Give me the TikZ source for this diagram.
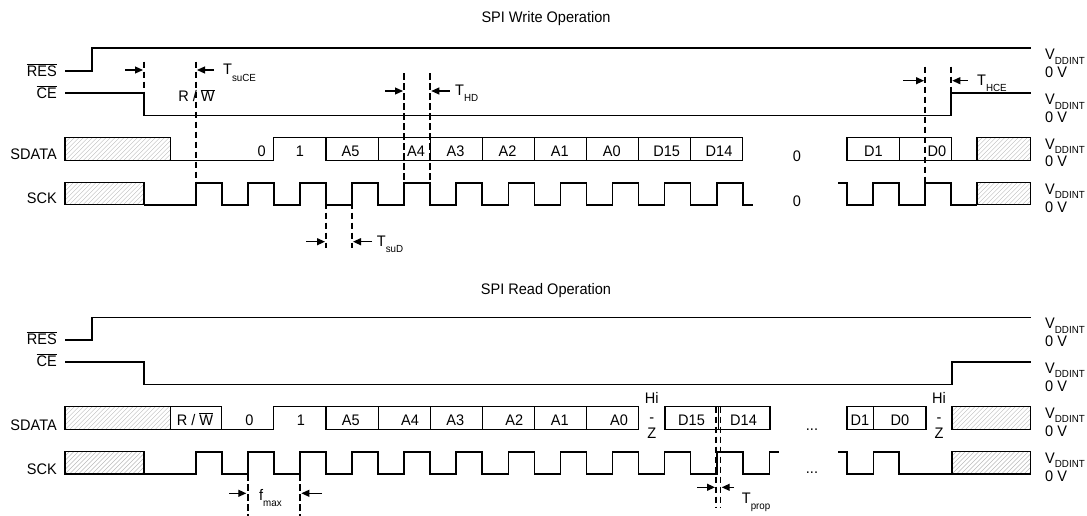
\documentclass[tikz,border=0pt]{standalone}
\usepackage{fontspec}
\setmainfont{Liberation Sans}[FakeStretch=0.95]
\usetikzlibrary{arrows.meta}
\newcommand\tsub[1]{\raisebox{-6.3pt}{\fontsize{10.3}{12}\selectfont #1}}
\newcommand\vsub[1]{\raisebox{-4.7pt}{\fontsize{10.3}{12}\selectfont #1}}
\newcommand\ovl[1]{$\overline{\mbox{#1}}$}
\newcommand\hatchrect[4]{%
  \begin{scope}
    \clip (#1,#2) rectangle (#3,#4);
    \foreach \i in {-6,...,25} \draw[hatchline] ({#1+4.5*\i},#4) -- ++(30,-30);
  \end{scope}
  \draw[hbox] (#1,#2) rectangle (#3,#4);
}
\begin{document}
\begin{tikzpicture}[x=1pt,y=-1pt,
  every node/.style={font=\fontsize{15.3}{18}\selectfont, inner sep=0pt, text=black},
  sig/.style={line width=1.6pt},
  dbox/.style={line width=1.1pt},
  hbox/.style={line width=1.5pt},
  hatchline/.style={line width=0.4pt, gray!55},
  dsh/.style={line width=1.7pt, dash pattern=on 6.5pt off 3.5pt},
  arr/.style={line width=1.2pt, -{Triangle[length=8pt,width=7pt]}}]
\useasboundingbox (0,0) rectangle (1087,516);

% ---------------- titles
\node[anchor=base] (tw) at (546,23) {SPI Write Operation};
\node[anchor=base] (tr) at (546,294) {SPI Read Operation};

% ================= WRITE
\node[anchor=base east] (wres) at (57,76.7) {\ovl{RES}};
\node[anchor=base east] (wce) at (57,98.3) {\ovl{CE}};
\node[anchor=base east] (wsd) at (57,160) {SDATA};
\node[anchor=base east] (wsck) at (57,204) {SCK};

\draw[sig] (65,71) -- (92,71) -- (92,48.3) -- (1031,48.3);
\draw[sig] (65,93.3) -- (144,93.3) -- (144,115.7) -- (951.15,115.7) -- (951.15,93.3) -- (1031,93.3);

% SDATA
\hatchrect{65}{137.7}{170.3}{160.7}
\draw[dbox] (170.3,160.7) -- (273.85,160.7) -- (273.85,137.7) -- (742.75,137.7) -- (742.75,160.7) -- (325.95,160.7) -- (325.95,137.7);
\foreach \x in {378.05,430.15,482.25,534.35,586.45,638.55,690.65} \draw[dbox] (\x,137.7) -- (\x,160.7);
\draw[dbox] (846.95,137.7) rectangle (951.15,160.7);
\draw[dbox] (899.05,137.7) -- (899.05,160.7);
\draw[dbox] (951.15,160.7) -- (977.2,160.7);
\hatchrect{977.2}{137.7}{1030.7}{160.7}
\foreach \x/\t [count=\i] in {261.7/0, 299.9/1, 350.5/A5, 416/A4, 455.5/A3, 507.5/A2, 559.7/A1, 611.7/A0, 666.7/D15, 719/D14, 873.3/D1, 937/D0}
  \node[anchor=base] (wd\i) at (\x,156.5) {\t};
\node[anchor=base] (wz1) at (797,161.7) {0};

% SCK
\hatchrect{65}{182.7}{144}{204.7}
\draw[sig] (144,204.7) \foreach \k in {0,...,10} { -- ({195.7+52.1*\k},204.7) -- ++(0,-22) -- ++(26.05,0) -- ++(0,22) } -- (753,204.7);
\draw[sig] (838.3,182.7) -- (846.95,182.7) -- (846.95,204.7) -- (873,204.7) -- (873,182.7) -- (899.05,182.7) -- (899.05,204.7) -- (925.1,204.7) -- (925.1,182.7) -- (951.15,182.7) -- (951.15,204.7) -- (977.2,204.7);
\hatchrect{977.2}{182.7}{1030.7}{204.7}
\node[anchor=base] (wz2) at (797,206.7) {0};

% right labels
\foreach \y [count=\i] in {48.3,93.3,137.7,182.7} {
  \node[anchor=base west] (wv\i) at (1045,\y+11.5) {V\vsub{DDINT}};
  \node[anchor=base west] (wo\i) at (1045,\y+29.3) {0 V};
}

% timing marks
\node[anchor=base] (wrw) at (196.5,101.7) {R / \ovl{W}};
\draw[dsh] (144,61.7) -- (144,115.7);
\draw[dsh] (195.7,61.7) -- (195.7,182.7);
\draw[arr] (125,70) -- (143,70);
\draw[arr] (214,70) -- (197,70);
\node[anchor=base west] (tsuce) at (223,75) {T\tsub{suCE}};

\draw[dsh] (325.95,182.7) -- (325.95,248);
\draw[dsh] (352,182.7) -- (352,248);
\draw[arr] (306,241.7) -- (325,241.7);
\draw[arr] (372,241.7) -- (353,241.7);
\node[anchor=base west] (tsud) at (376.7,246.7) {T\tsub{suD}};

\draw[dsh] (404.1,73.3) -- (404.1,186.7);
\draw[dsh] (430.15,73.3) -- (430.15,186.7);
\draw[arr] (385,91) -- (403,91);
\draw[arr] (449.5,91) -- (431.3,91);
\node[anchor=base west] (thd) at (455,95.5) {T\tsub{HD}};

\draw[dsh] (925.1,66.7) -- (925.1,193);
\draw[dsh] (951.15,66.7) -- (951.15,115.7);
\draw[arr] (903,80.7) -- (924,80.7);
\draw[arr] (967.5,80.7) -- (952.3,80.7);
\node[anchor=base west] (thce) at (977,85.5) {T\tsub{HCE}};

% ================= READ
\node[anchor=base east] (rres) at (57,344.5) {\ovl{RES}};
\node[anchor=base east] (rce) at (57,366.7) {\ovl{CE}};
\node[anchor=base east] (rsd) at (57,430) {SDATA};
\node[anchor=base east] (rsck) at (57,474) {SCK};

\draw[sig] (65,340) -- (91.7,340) -- (91.7,317.3) -- (1031,317.3);
\draw[sig] (65,361.7) -- (144,361.7) -- (144,384.3) -- (952,384.3) -- (952,361.7) -- (1031,361.7);

% SDATA
\hatchrect{65}{406.7}{170.3}{429.7}
\draw[dbox] (170.3,406.7) -- (221.75,406.7) -- (221.75,429.7);
\draw[dbox] (170.3,429.7) -- (273.85,429.7) -- (273.85,406.7) -- (638.55,406.7) -- (638.55,429.7) -- (325.95,429.7) -- (325.95,406.7);
\foreach \x in {378.05,430.15,482.25,534.35,586.45} \draw[dbox] (\x,406.7) -- (\x,429.7);
\draw[dbox] (665,406.7) rectangle (770,429.7);
\draw[dbox] (718.3,406.7) -- (718.3,429.7);
\draw[dbox] (847,406.7) rectangle (926,429.7);
\draw[dbox] (873.3,406.7) -- (873.3,429.7);
\hatchrect{952}{406.7}{1030.7}{429.7}
\node[anchor=base] (rrw) at (195,425.3) {R / \ovl{W}};
\foreach \x/\t [count=\i] in {249.3/0, 301/1, 350.7/A5, 410/A4, 455.3/A3, 514.3/A2, 559.7/A1, 619/A0, 691.5/D15, 743.5/D14, 860/D1, 900/D0}
  \node[anchor=base] (rd\i) at (\x,425.3) {\t};
\foreach \x [count=\i] in {651.7,939} {
  \node[anchor=base] (rhi\i) at (\x,403) {Hi};
  \node[anchor=base] (rdash\i) at (\x,422.5) {-};
  \node[anchor=base] (rzz\i) at (\x,438) {Z};
}
\node[anchor=base] (rdots1) at (812,430) {...};

% SCK
\hatchrect{65}{451.7}{144}{474}
\draw[sig] (144,474) \foreach \k in {0,...,10} { -- ({195.7+52.1*\k},474) -- ++(0,-22.3) -- ++(26.05,0) -- ++(0,22.3) } -- (769.5,474) -- (769.5,451.7) -- (779.3,451.7);
\draw[sig] (838.3,451.7) -- (847,451.7) -- (847,474) -- (873.3,474) -- (873.3,451.7) -- (899,451.7) -- (899,474) -- (952,474);
\hatchrect{952}{451.7}{1030.7}{474}
\node[anchor=base] (rdots2) at (812,473.5) {...};

% right labels
\foreach \y [count=\i] in {317.3,361.7,406.7,451.7} {
  \node[anchor=base west] (rv\i) at (1045,\y+11.5) {V\vsub{DDINT}};
  \node[anchor=base west] (ro\i) at (1045,\y+29.3) {0 V};
}

% timing marks
\draw[dsh] (247.8,474) -- (247.8,516);
\draw[dsh] (299.9,474) -- (299.9,516);
\draw[arr] (229,493.3) -- (246.3,493.3);
\draw[arr] (322,493.3) -- (301.4,493.3);
\node[anchor=base west] (fmax) at (259,500) {f\tsub{max}};

\draw[dsh,line width=1.3pt] (716,406.7) -- (716,508);
\draw[dsh,line width=1.3pt] (720.7,406.7) -- (720.7,508);
\draw[arr] (697,487.3) -- (715,487.3);
\draw[arr] (734,487.3) -- (721.7,487.3);
\node[anchor=base west] (tprop) at (741.7,503) {T\tsub{prop}};
\end{tikzpicture}
\end{document}
